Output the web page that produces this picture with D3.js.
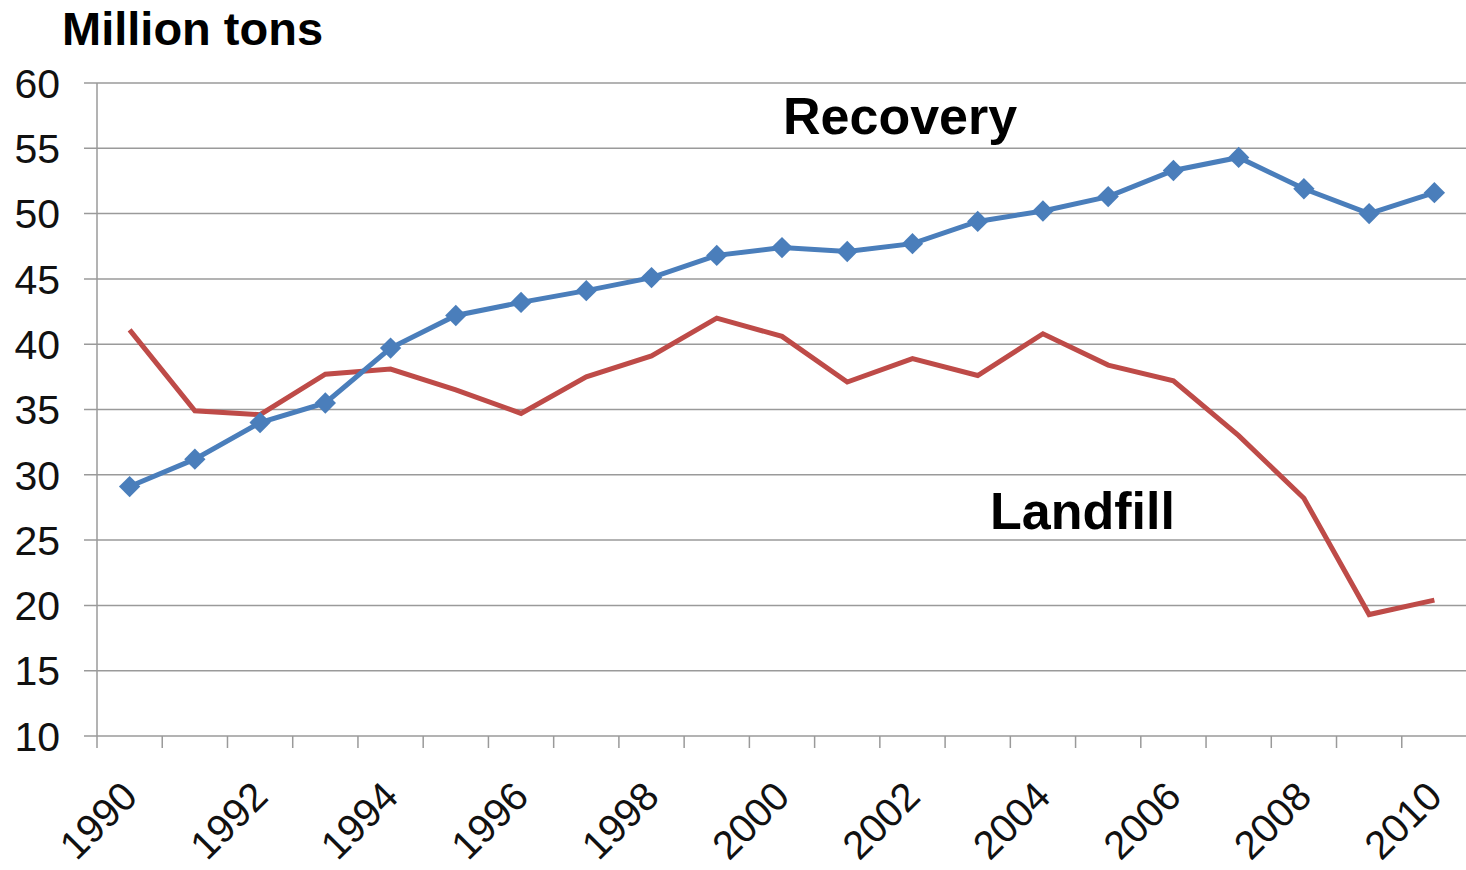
<!DOCTYPE html>
<html>
<head>
<meta charset="utf-8">
<script src="https://cdn.jsdelivr.net/npm/d3@7"></script>
<style>
  body { margin: 0; background: #fff; }
  svg { display: block; font-family: "Liberation Sans", Arial, sans-serif; }
</style>
</head>
<body>
<div id="chart-container"></div>
<script>
// data
var years = d3.range(1990, 2011);
var recovery = [29.1, 31.2, 34.0, 35.5, 39.7, 42.2, 43.2, 44.1, 45.1, 46.8, 47.4,
                47.1, 47.7, 49.4, 50.2, 51.3, 53.3, 54.3, 51.9, 50.0, 51.6];
var landfill = [41.1, 34.9, 34.6, 37.7, 38.1, 36.5, 34.7, 37.5, 39.1, 42.0, 40.6,
                37.1, 38.9, 37.6, 40.8, 38.4, 37.2, 33.0, 28.2, 19.3, 20.4];
var yTicks = [10, 15, 20, 25, 30, 35, 40, 45, 50, 55, 60];
var xLabels = [1990, 1992, 1994, 1996, 1998, 2000, 2002, 2004, 2006, 2008, 2010];

var width = 1466, height = 870;
var margin = { top: 83, right: 0, bottom: 134, left: 97 };
var innerW = 1467 - margin.left, innerH = height - margin.top - margin.bottom;

var svg = d3.select("#chart-container")
    .append("svg")
    .attr("width", width)
    .attr("height", height);

var chart = svg.append("g")
    .attr("transform", "translate(" + margin.left + "," + margin.top + ")");

var xScale = d3.scaleBand()
    .domain(years)
    .range([0, innerW]);
var yScale = d3.scaleLinear()
    .domain([10, 60])
    .range([innerH, 0]);

// gridlines + y labels
chart.append("g")
    .selectAll("line")
    .data(yTicks)
    .enter()
    .append("line")
    .attr("x1", -13)
    .attr("x2", innerW)
    .attr("y1", function (d) { return yScale(d); })
    .attr("y2", function (d) { return yScale(d); })
    .attr("stroke", "#9a9a9a")
    .attr("stroke-width", 1.5);

chart.append("g")
    .selectAll("text")
    .data(yTicks)
    .enter()
    .append("text")
    .attr("x", -37)
    .attr("y", function (d) { return yScale(d); })
    .attr("dy", "0.36em")
    .attr("text-anchor", "end")
    .style("font-size", "41px")
    .attr("fill", "#111")
    .text(function (d) { return d; });

// y axis line
chart.append("line")
    .attr("x1", 0).attr("x2", 0)
    .attr("y1", 0).attr("y2", innerH + 12)
    .attr("stroke", "#9a9a9a")
    .attr("stroke-width", 1.5);

// x tick marks at band edges
chart.append("g")
    .selectAll("line")
    .data(years.slice(1))
    .enter()
    .append("line")
    .attr("x1", function (d) { return xScale(d); })
    .attr("x2", function (d) { return xScale(d); })
    .attr("y1", innerH)
    .attr("y2", innerH + 12)
    .attr("stroke", "#9a9a9a")
    .attr("stroke-width", 1.5);

// x labels
chart.append("g")
    .selectAll("text")
    .data(xLabels)
    .enter()
    .append("text")
    .attr("transform", function (d) {
        var x = xScale(d) + xScale.bandwidth() / 2 - 10;
        return "translate(" + x + "," + (innerH + 43) + ") rotate(-45)";
    })
    .attr("text-anchor", "end")
    .attr("dy", "0.7em")
    .style("font-size", "40px")
    .attr("fill", "#111")
    .text(function (d) { return d; });

var cx = function (d, i) { return xScale(years[i]) + xScale.bandwidth() / 2; };

var line = d3.line()
    .x(cx)
    .y(function (d) { return yScale(d); });

chart.append("path")
    .datum(landfill)
    .attr("d", line)
    .attr("fill", "none")
    .attr("stroke", "#be4b48")
    .attr("stroke-width", 5)
    .attr("stroke-linejoin", "miter");

chart.append("path")
    .datum(recovery)
    .attr("d", line)
    .attr("fill", "none")
    .attr("stroke", "#4a7ebb")
    .attr("stroke-width", 5);

chart.selectAll(".marker")
    .data(recovery)
    .enter()
    .append("path")
    .attr("class", "marker")
    .attr("d", d3.symbol().type(d3.symbolDiamond2).size(290))
    .attr("transform", function (d, i) {
        return "translate(" + cx(d, i) + "," + yScale(d) + ")";
    })
    .attr("fill", "#4a7ebb");

// titles
svg.append("text")
    .attr("x", 62)
    .attr("y", 45)
    .style("font-size", "47px")
    .style("font-weight", "bold")
    .attr("fill", "#000")
    .text("Million tons");

svg.append("text")
    .attr("x", 783)
    .attr("y", 134)
    .style("font-size", "52px")
    .style("font-weight", "bold")
    .attr("fill", "#000")
    .text("Recovery");

svg.append("text")
    .attr("x", 990)
    .attr("y", 529)
    .style("font-size", "52px")
    .style("font-weight", "bold")
    .attr("fill", "#000")
    .text("Landfill");
</script>
</body>
</html>
